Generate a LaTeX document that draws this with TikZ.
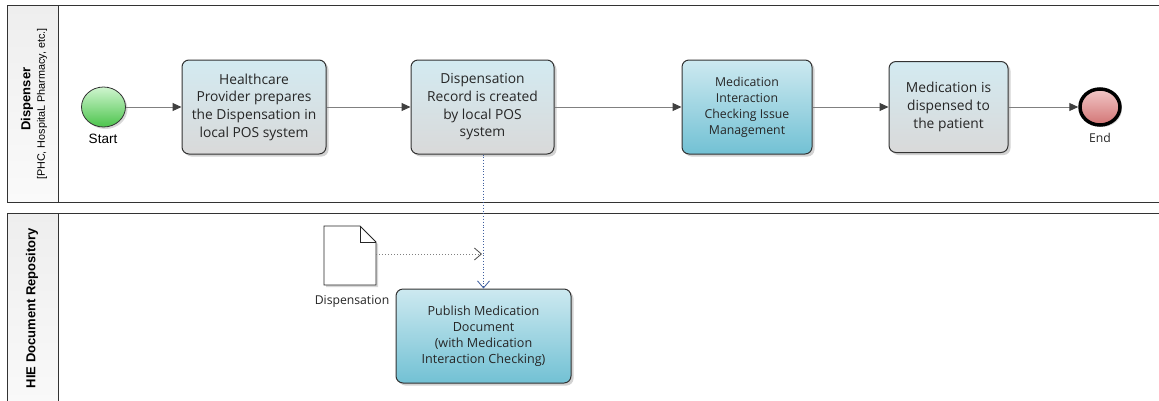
\documentclass[tikz,border=0pt]{standalone}
\usepackage{fontspec}
\setmainfont{Open Sans}
\newfontfamily\arialf{Liberation Sans}
\usetikzlibrary{arrows.meta,shadows,shapes.geometric}
\definecolor{laneline}{HTML}{333333}
\definecolor{hdrtop}{HTML}{EEEEEE}
\definecolor{hdrbot}{HTML}{FAFAFA}
\definecolor{taskA}{HTML}{D3EAF1}
\definecolor{taskB}{HTML}{D9D9D9}
\definecolor{taskC}{HTML}{CDE9F0}
\definecolor{taskD}{HTML}{72C1D4}
\definecolor{flowgray}{HTML}{808080}
\definecolor{headgray}{HTML}{404040}
\definecolor{dotblue}{HTML}{3F5F9F}
\definecolor{startA}{HTML}{CFF5CF}
\definecolor{startB}{HTML}{4CC44C}
\definecolor{endA}{HTML}{F2C8C8}
\definecolor{endB}{HTML}{D27474}
\tikzset{
  lane/.style={draw=laneline, line width=0.9pt},
  hdr/.style={draw=laneline, line width=0.9pt, top color=hdrtop, bottom color=hdrbot},
  taskbox/.style={draw=laneline, line width=1pt, rounded corners=7pt, align=center,
    top color=taskA, bottom color=taskB, inner sep=0pt,
    drop shadow={shadow xshift=2.5pt, shadow yshift=-2.5pt, opacity=0.35, fill=gray},
    font=\fontsize{13.8}{17.7}\selectfont, text=black!85},
  subbox/.style={taskbox, top color=taskC, bottom color=taskD,
    font=\fontsize{12.3}{16}\selectfont},
  startev/.style={ellipse, draw=black!80, line width=0.8pt, top color=startA, bottom color=startB,
    minimum width=44pt, minimum height=40pt, inner sep=0pt,
    drop shadow={shadow xshift=2pt, shadow yshift=-2pt, opacity=0.3, fill=gray}},
  endev/.style={ellipse, draw=black, line width=3.5pt, top color=endA, bottom color=endB,
    minimum width=40pt, minimum height=36pt, inner sep=0pt,
    drop shadow={shadow xshift=2pt, shadow yshift=-2pt, opacity=0.3, fill=gray}},
  flow/.style={draw=flowgray, line width=1pt, -{Triangle[length=9pt,width=8pt,fill=headgray,color=headgray]}},
  msgflow/.style={draw=dotblue, line width=0.8pt, dotted, -{Straight Barb[length=7pt,width=12pt,line width=0.8pt,color=dotblue]}},
  assoc/.style={draw=gray, line width=1pt, dotted, -{Straight Barb[length=7pt,width=12pt,line width=0.8pt,color=black!70]}},
  lbl/.style={font=\fontsize{12.2}{14}\selectfont, text=black!85, inner sep=0pt},
}
\begin{document}
\begin{tikzpicture}[x=1pt,y=-1pt]
\useasboundingbox (0,0) rectangle (1159,400);
\fill[white] (0,0) rectangle (1159,400);
\clip (0,0) rectangle (1159,400);
% lanes
\draw[lane] (7,5) rectangle (1170,202);
\draw[hdr] (7,5) rectangle (58,202);
\draw[lane] (7,213) rectangle (1170,420);
\draw[hdr] (7,213) rectangle (58,420);
\node[rotate=90, font=\arialf\bfseries\fontsize{13}{15}\selectfont, inner sep=0pt] (lane1) at (27,99) {Dispenser};
\node[rotate=90, font=\arialf\fontsize{10.8}{12}\selectfont, inner sep=0pt] (lane1b) at (42,104) {[PHC, HospitaL Pharmacy, etc.]};
\node[rotate=90, font=\arialf\bfseries\fontsize{13}{15}\selectfont, inner sep=0pt] (lane2) at (32,308) {HIE Document Repository};
% events
\node[startev] (start) at (103.5,107) {};
\node[font=\arialf\fontsize{13.5}{15}\selectfont, inner sep=0pt] (startl) at (103,139) {Start};
\node[endev] (end) at (1100,107) {};
\node[lbl] (endl) at (1100,138) {End};
% tasks
\node[taskbox, minimum width=144pt, minimum height=94pt] (t1) at (254,107) {Healthcare\\Provider prepares\\the Dispensation in\\local POS system};
\node[taskbox, minimum width=143pt, minimum height=94pt] (t2) at (482.5,107) {Dispensation\\Record is created\\by local POS\\system};
\node[subbox, minimum width=130pt, minimum height=94pt] (t3) at (747,107) {Medication\\Interaction\\Checking Issue\\Management};
\node[taskbox, minimum width=119pt, minimum height=91pt] (t4) at (948.5,107) {Medication is\\dispensed to\\the patient};
\node[subbox, minimum width=175pt, minimum height=94pt, font=\fontsize{12.6}{16}\selectfont] (pub) at (483.5,336) {Publish Medication\\Document\\(with Medication\\Interaction Checking)};
% document
\draw[draw=black!85, line width=0.9pt, fill=white, drop shadow={shadow xshift=2pt, shadow yshift=-2pt, opacity=0.3, fill=gray}]
  (324,226) -- (360,226) -- (376,242) -- (376,285) -- (324,285) -- cycle;
\draw[draw=black!85, line width=0.9pt] (360,226) -- (360,242) -- (376,242);
\node[inner sep=0pt, minimum width=52pt, minimum height=59pt] (doc) at (350,255.5) {};
\node[lbl] (docl) at (352,301) {Dispensation};
% flows
\draw[flow] (start) -- (t1);
\draw[flow] (t1) -- (t2);
\draw[flow] (t2) -- (t3);
\draw[flow] (t3) -- (t4);
\draw[flow] (t4) -- (end);
\draw[msgflow] (t2.south -| pub.north) -- (pub.north);
\coordinate (assocend) at (482,254);
\draw[assoc] (doc.east |- assocend) -- (assocend);
\end{tikzpicture}
\end{document}
